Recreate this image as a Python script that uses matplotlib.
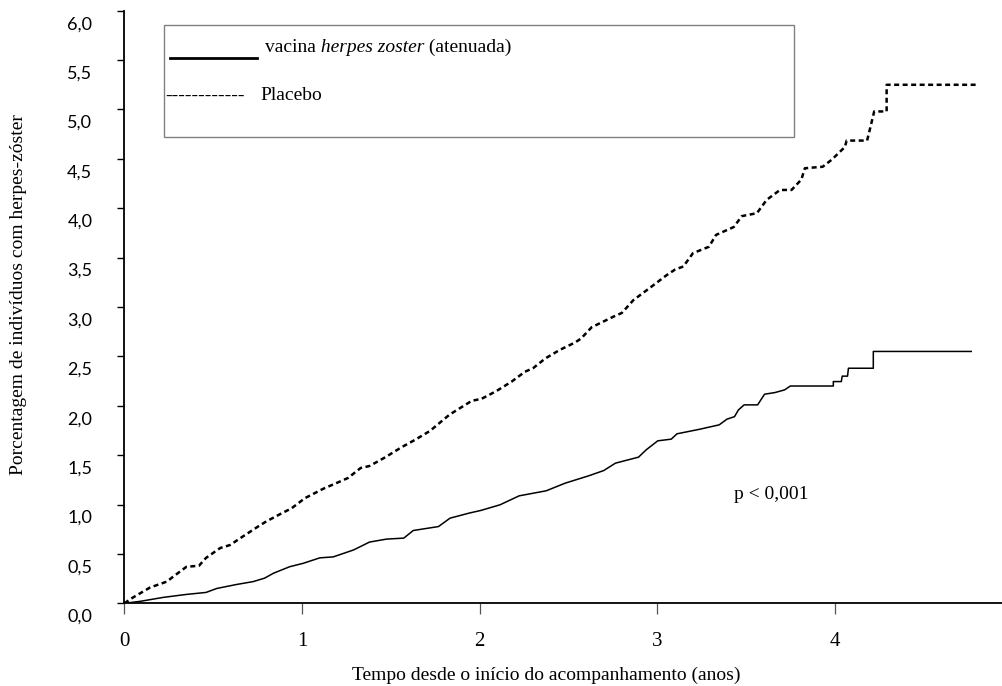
import matplotlib
matplotlib.use("Agg")
import matplotlib.pyplot as plt
import matplotlib.transforms as mtransforms
from matplotlib.patches import Rectangle
from matplotlib.lines import Line2D

W, H = 1003, 686

# Placebo curve
placebo_x = [0, 0.05, 0.145, 0.24, 0.275, 0.35, 0.42, 0.46, 0.54, 0.595, 0.67, 0.755,
             0.80, 0.895, 0.94, 1.017, 1.12, 1.21, 1.26, 1.33, 1.38, 1.47, 1.56, 1.636,
             1.72, 1.83, 1.955, 2.01, 2.095, 2.18, 2.255, 2.30, 2.37, 2.45, 2.536, 2.57,
             2.63, 2.75, 2.80, 2.865, 2.94, 2.977, 3.05, 3.10, 3.146, 3.20, 3.29, 3.33,
             3.43, 3.475, 3.56, 3.615, 3.69, 3.755, 3.81, 3.83, 3.93, 3.98, 4.055, 4.065,
             4.18, 4.20, 4.22, 4.29, 4.29, 4.80]
placebo_y = [0, 0.06, 0.16, 0.22, 0.27, 0.37, 0.38, 0.46, 0.56, 0.59, 0.68, 0.78,
             0.83, 0.92, 0.96, 1.065, 1.16, 1.23, 1.27, 1.37, 1.39, 1.48, 1.58, 1.655,
             1.745, 1.91, 2.05, 2.07, 2.15, 2.245, 2.345, 2.38, 2.48, 2.565, 2.64, 2.68,
             2.795, 2.90, 2.94, 3.07, 3.17, 3.22, 3.32, 3.38, 3.41, 3.545, 3.61, 3.73,
             3.81, 3.92, 3.95, 4.085, 4.185, 4.185, 4.29, 4.405, 4.42, 4.49, 4.62, 4.685,
             4.685, 4.83, 4.98, 4.98, 5.25, 5.25]

# Vaccine curve
vacina_x = [0, 0.09, 0.22, 0.35, 0.46, 0.52, 0.63, 0.726, 0.79, 0.84, 0.93, 1.007,
            1.10, 1.176, 1.29, 1.38, 1.476, 1.573, 1.626, 1.768, 1.833, 1.94, 2.006,
            2.114, 2.222, 2.374, 2.482, 2.612, 2.698, 2.764, 2.894, 2.937, 3.002, 3.078,
            3.11, 3.24, 3.348, 3.391, 3.434, 3.456, 3.488, 3.564, 3.603, 3.662, 3.716,
            3.748, 3.99, 3.99, 4.035, 4.04, 4.07, 4.075, 4.215, 4.215, 4.766]
vacina_y = [0, 0.02, 0.06, 0.09, 0.11, 0.15, 0.19, 0.22, 0.255, 0.305, 0.37, 0.405,
            0.46, 0.47, 0.54, 0.62, 0.65, 0.66, 0.737, 0.777, 0.862, 0.913, 0.94,
            0.997, 1.088, 1.139, 1.217, 1.29, 1.344, 1.419, 1.48, 1.554, 1.645, 1.662,
            1.716, 1.763, 1.807, 1.864, 1.89, 1.958, 2.009, 2.009, 2.117, 2.134, 2.161,
            2.20, 2.20, 2.245, 2.245, 2.30, 2.30, 2.38, 2.38, 2.55, 2.55]

y_ticks = [i * 0.5 for i in range(13)]
y_labels = [f"{t:.1f}".replace(".", ",") for t in y_ticks]
x_ticks = [0, 1, 2, 3, 4]

serif = "Liberation Serif"

fig = plt.figure(figsize=(W / 100, H / 100), dpi=100)
ax = fig.add_axes([124.3 / W, (H - 603.3) / H, (W - 124.3) / W, 592.6 / H])

ax.plot(vacina_x, vacina_y, color="black", lw=1.1)
ax.plot(placebo_x, placebo_y, color="black", lw=1.8, linestyle=(0, (2.0, 1.4)))

ax.set_xlim(0, (W - 124.3) / 177.7)
ax.set_ylim(0, 6.0)

for side in ["top", "right"]:
    ax.spines[side].set_visible(False)
for side in ["left", "bottom"]:
    ax.spines[side].set_linewidth(1.3)

ax.set_xticks(x_ticks)
ax.set_xticklabels([str(t) for t in x_ticks], fontfamily=serif, fontsize=15)
ax.tick_params(axis="x", length=8, width=0.9, pad=13, color="#555555")

ax.set_yticks(y_ticks)
ax.set_yticklabels(y_labels, fontfamily="Lato", fontsize=13)
ax.tick_params(axis="y", length=5, width=1.0, pad=18)

# tick labels sit a bit below their ticks in the reference
offset = mtransforms.ScaledTranslation(0, -0.12, fig.dpi_scale_trans)
for lbl in ax.get_yticklabels():
    lbl.set_transform(lbl.get_transform() + offset)

ax.set_xlabel("Tempo desde o início do acompanhamento (anos)", fontfamily=serif, fontsize=14)
ax.xaxis.label.set_va("center")
ax.xaxis.set_label_coords((546.5 - 124.3) / (W - 124.3), (603.3 - 675) / 592.6)

ax.set_ylabel("Porcentagem de indivíduos com herpes-zóster", fontfamily=serif, fontsize=14)
ax.yaxis.label.set_va("center")
ax.yaxis.set_label_coords((18.3 - 124.3) / (W - 124.3), (603.3 - 295) / 592.6)

ax.text((771 - 124.3) / 177.7, (603.3 - 494) / 98.8, "p < 0,001",
        fontfamily=serif, fontsize=14, ha="center", va="center")

# legend box drawn like the original (plain frame with typed lines)
fig.patches.append(Rectangle((164 / W, 1 - 137 / H), (794 - 164) / W, (137 - 25) / H,
                             transform=fig.transFigure, fill=False,
                             edgecolor="#808080", lw=1.0))
fig.lines.append(Line2D([170 / W, 257 / W], [1 - 58 / H] * 2,
                        transform=fig.transFigure, color="black", lw=2.0))
t1 = fig.text(265 / W, 1 - 48 / H, "vacina", fontfamily=serif, fontsize=14,
              ha="left", va="center")
t2 = ax.annotate(" herpes zoster", xy=(1, 0), xycoords=t1, fontfamily=serif,
                 fontsize=14, style="italic", ha="left", va="bottom",
                 annotation_clip=False)
ax.annotate(" (atenuada)", xy=(1, 0), xycoords=t2, fontfamily=serif, fontsize=14,
            ha="left", va="bottom", annotation_clip=False)
fig.text(165 / W, 1 - 96 / H, "------------", fontfamily=serif, fontsize=14,
         ha="left", va="center")
fig.text(260 / W, 1 - 96 / H, "Placebo", fontfamily=serif, fontsize=14,
         ha="left", va="center")

fig.savefig("out.png", dpi=100)
